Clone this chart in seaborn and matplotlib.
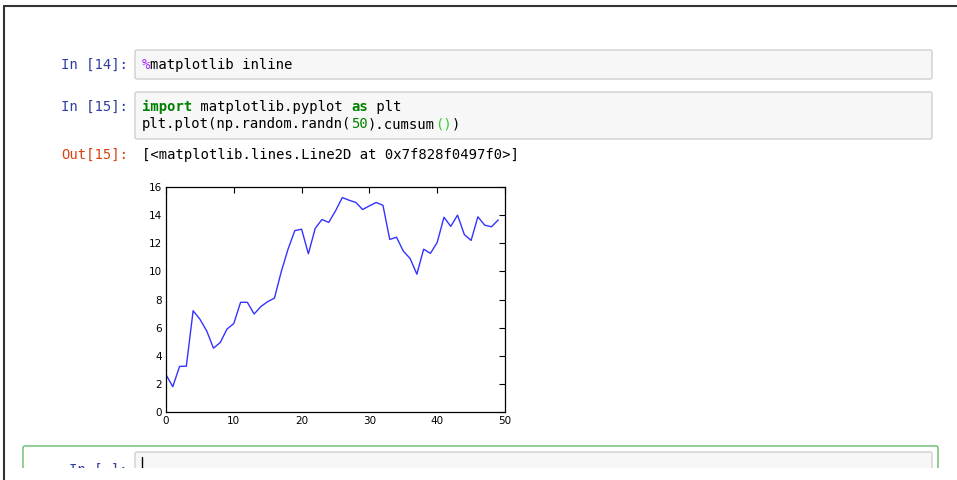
import matplotlib
matplotlib.use("Agg")
import matplotlib.pyplot as plt
import matplotlib.patches as mpatches
import numpy as np
import pandas as pd
import seaborn as sns

# ─────────────────────────────────────────────────────────────
# DONNÉES
# ─────────────────────────────────────────────────────────────
steps = list(range(50))
cumsum_values = [
    2.65, 1.80, 3.24, 3.26, 7.20, 6.60, 5.77, 4.54, 4.94, 5.90,
    6.29, 7.80, 7.80, 6.97, 7.50, 7.85, 8.10, 9.98, 11.58, 12.90,
    13.00, 11.25, 13.05, 13.69, 13.48, 14.30, 15.25, 15.06, 14.90, 14.40,
    14.66, 14.90, 14.70, 12.27, 12.43, 11.44, 10.92, 9.80, 11.58, 11.28,
    12.06, 13.85, 13.20, 14.00, 12.62, 12.20, 13.88, 13.29, 13.17, 13.66,
]
x_ticks = [0, 10, 20, 30, 40, 50]
y_ticks = [0, 2, 4, 6, 8, 10, 12, 14, 16]

prompt_in_14 = "In [14]:"
prompt_in_15 = "In [15]:"
prompt_out_15 = "Out[15]:"
prompt_empty = "In [ ]:"
out_text = "[<matplotlib.lines.Line2D at 0x7f828f0497f0>]"

# segments (texte, couleur, gras)
code_cell_14 = [[("%", "#AA22FF", False), ("matplotlib inline", "#000000", False)]]
code_cell_15 = [
    [("import", "#008000", True), (" matplotlib.pyplot ", "#000000", False),
     ("as", "#008000", True), (" plt", "#000000", False)],
    [("plt.plot(np.random.randn(", "#000000", False), ("50", "#008000", False),
     (").cumsum", "#000000", False), ("()", "#33cc33", False), (")", "#000000", False)],
]

W, H = 957, 480
MONO = "DejaVu Sans Mono"
FS = 10
CHAR_W = FS * 100 / 72 * 0.602

sns.set_style("white")
plt.rcParams["font.family"] = ["DejaVu Sans"]

fig = plt.figure(figsize=(W / 100, H / 100), dpi=100)
bg = fig.add_axes([0, 0, 1, 1])
bg.set_xlim(0, W)
bg.set_ylim(H, 0)
bg.axis("off")


def box(x0, y0, x1, y1, face, edge, lw=1.0, z=1):
    p = mpatches.FancyBboxPatch((x0, y0), x1 - x0, y1 - y0,
                                boxstyle="round,pad=0,rounding_size=2",
                                fc=face, ec=edge, lw=lw, zorder=z)
    bg.add_patch(p)


def code_line(x, y, segments):
    i = 0
    for txt, color, bold in segments:
        bg.text(x + i * CHAR_W, y, txt, family=MONO, fontsize=FS, color=color,
                fontweight="bold" if bold else "normal", va="baseline", ha="left", zorder=5)
        i += len(txt)


def prompt(y, txt, color):
    bg.text(128, y, txt, family=MONO, fontsize=FS, color=color,
            va="baseline", ha="right", zorder=5)


# cellule 14
box(135, 50, 932, 79, "#f7f7f7", "#cfcfcf")
prompt(69, prompt_in_14, "#303F9F")
code_line(142, 69, code_cell_14[0])

# cellule 15
box(135, 92, 932, 139, "#f7f7f7", "#cfcfcf")
prompt(111, prompt_in_15, "#303F9F")
code_line(142, 111, code_cell_15[0])
code_line(142, 128, code_cell_15[1])

prompt(159, prompt_out_15, "#D84315")
code_line(142, 159, [(out_text, "#000000", False)])

# cellule vide sélectionnée
box(23, 446, 938, 500, "white", "#66BB6A", lw=1.0)
box(135, 452, 932, 500, "#f7f7f7", "#cfcfcf", z=2)
prompt(474, prompt_empty, "#303F9F")
bg.plot([142, 142], [457, 468], color="black", lw=1, zorder=6)

# bas coupé + cadre de la fenêtre
bg.add_patch(mpatches.Rectangle((0, 468), W, 20, fc="white", ec="none", zorder=8))
bg.plot([4, 4], [6, H], color="#333333", lw=1.5, zorder=9)
bg.plot([4, W], [6, 6], color="#333333", lw=1.5, zorder=9)

# ─────────────────────────────────────────────────────────────
# GRAPHIQUE
# ─────────────────────────────────────────────────────────────
df = pd.DataFrame({"step": steps, "value": cumsum_values})
ax = fig.add_axes([166 / W, 1 - 412 / H, 339 / W, 225 / H])
sns.lineplot(data=df, x="step", y="value", ax=ax, color="#0000ff", lw=1.0, alpha=0.8)
ax.set_xlim(0, 50)
ax.set_ylim(0, 16)
ax.set_xticks(x_ticks)
ax.set_yticks(y_ticks)
ax.set_xlabel("")
ax.set_ylabel("")
ax.tick_params(direction="in", top=True, right=True, length=4, width=0.8,
               labelsize=7.5, pad=3, colors="black")
for s in ax.spines.values():
    s.set_visible(True)
    s.set_color("black")
    s.set_linewidth(0.9)

fig.savefig("out.png", dpi=100)
